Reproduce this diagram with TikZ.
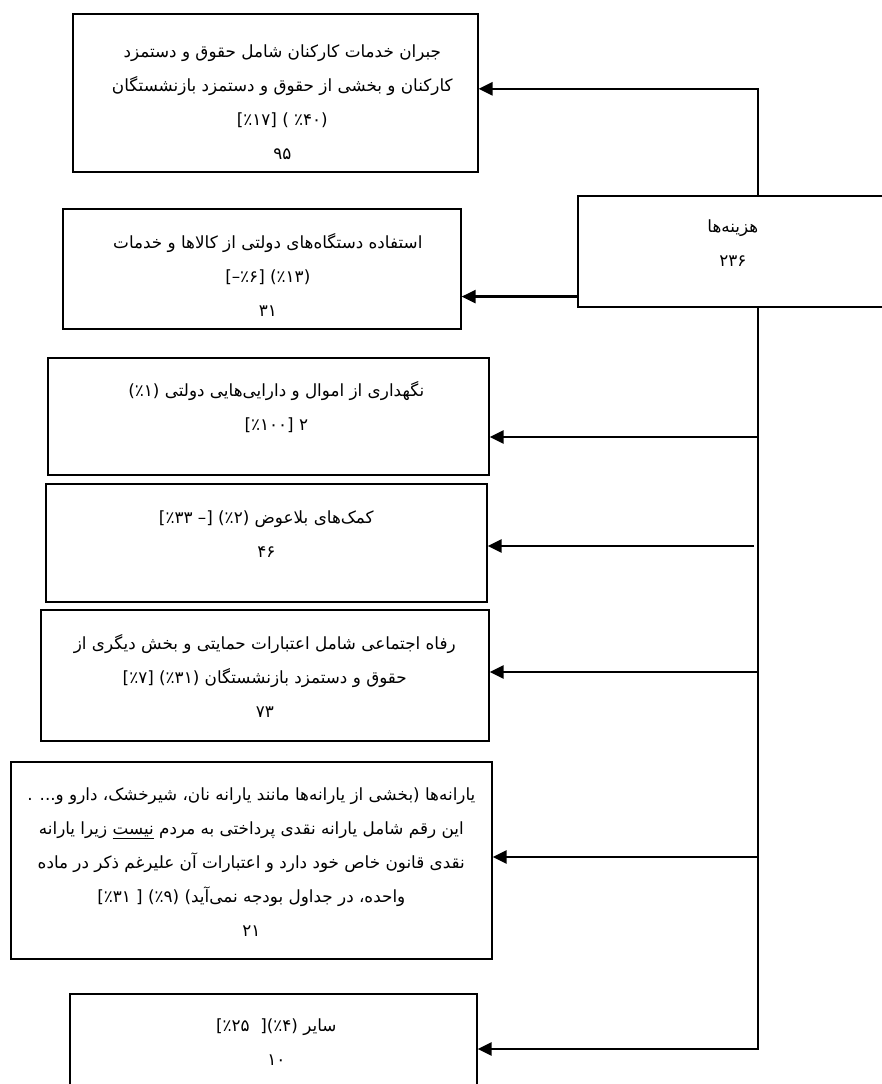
\documentclass[tikz,border=0pt]{standalone}
\usepackage{fontspec}
\usepackage{tikz}
\usetikzlibrary{arrows.meta}
\TeXXeTstate=1
\newfontfamily\arabicfont[Script=Arabic]{DejaVu Sans}
\newfontfamily\numfont{DejaVu Sans}
\newcommand{\rtlline}[1]{\beginR #1\endR}
\newcommand{\ltrpart}[1]{\beginL{\numfont #1}\endL}
\tikzset{
  box/.style={draw, line width=1.6pt, inner sep=0pt},
  boxtext/.style={align=center, inner sep=0pt, font=\arabicfont\fontsize{16.8}{34}\selectfont},
  feed/.style={line width=2.6pt, -{Triangle[length=14pt,width=13pt]}}
}

\begin{document}
\begin{tikzpicture}[x=1pt,y=-1pt]
\useasboundingbox (0,0) rectangle (882,1084);

\node[box, anchor=north west, minimum width=313, minimum height=111] (hazine) at (577,195) {};
\node[box, anchor=north west, minimum width=405, minimum height=158] (jobran) at (72,13) {};
\node[box, anchor=north west, minimum width=398, minimum height=120] (estefade) at (62,208) {};
\node[box, anchor=north west, minimum width=441, minimum height=117] (negahdari) at (47,357) {};
\node[box, anchor=north west, minimum width=441, minimum height=118] (komak) at (45,483) {};
\node[box, anchor=north west, minimum width=448, minimum height=131] (refah) at (40,609) {};
\node[box, anchor=north west, minimum width=481, minimum height=197] (yaraneh) at (10,761) {};
\node[box, anchor=north west, minimum width=407, minimum height=100] (saier) at (69,993) {};

\node[boxtext, xshift=-1.5pt, yshift=8pt] (hazinetext) at (hazine.center)
  {\rtlline{هزینه^^^^200cها}\\ \rtlline{۲۳۶}};
\node[boxtext, xshift=7pt, yshift=-9pt] (jobrantext) at (jobran.center)
  {\rtlline{جبران خدمات کارکنان شامل حقوق و دستمزد}\\
   \rtlline{کارکنان و بخشی از حقوق و دستمزد بازنشستگان}\\
   \ltrpart{[٪۱۷] ( ٪۴۰)}\\
   \rtlline{۹۵}};
\node[boxtext, xshift=6pt, yshift=-6.5pt] (estefadetext) at (estefade.center)
  {\rtlline{استفاده دستگاه^^^^200cهای دولتی از کالاها و خدمات}\\
   \ltrpart{[–٪۶] (٪۱۳)}\\
   \rtlline{۳۱}};
\node[boxtext, xshift=8pt, yshift=9.5pt] (negahdaritext) at (negahdari.center)
  {\rtlline{نگهداری از اموال و دارایی^^^^200cهایی دولتی \ltrpart{(٪۱)}}\\
   \ltrpart{[٪۱۰۰] ۲}};
\node[boxtext, yshift=9pt] (komaktext) at (komak.center)
  {\rtlline{کمک^^^^200cهای بلاعوض \ltrpart{[٪۳۳ –] (٪۲)}}\\
   \rtlline{۴۶}};
\node[boxtext, yshift=-1pt] (refahtext) at (refah.center)
  {\rtlline{رفاه اجتماعی شامل اعتبارات حمایتی و بخش دیگری از}\\
   \rtlline{حقوق و دستمزد بازنشستگان \ltrpart{[٪۷] (٪۳۱)}}\\
   \rtlline{۷۳}};
\node[boxtext, yshift=-2pt] (yaranehtext) at (yaraneh.center)
  {\rtlline{یارانه^^^^200cها (بخشی از یارانه^^^^200cها مانند یارانه نان، شیرخشک، دارو و... .}\\
   \rtlline{این رقم شامل یارانه نقدی پرداختی به مردم \underline{نیست} زیرا یارانه}\\
   \rtlline{نقدی قانون خاص خود دارد و اعتبارات آن علیرغم ذکر در ماده}\\
   \rtlline{واحده، در جداول بودجه نمی^^^^200cآید) \ltrpart{[٪۳۱ ] (٪۹)}}\\
   \rtlline{۲۱}};
\node[boxtext, xshift=3pt, yshift=1.5pt] (saiertext) at (saier.center)
  {\rtlline{سایر \ltrpart{[٪۲۵~~](٪۴)}}\\
   \rtlline{۱۰}};

\coordinate (fork) at (758,1049);
\coordinate (t3) at (758,437);
\coordinate (t4) at (754,546);
\coordinate (t5) at (758,672);
\coordinate (t6) at (758,857);
\path ([yshift=11pt]hazine.south west) coordinate (t2);

\draw[feed] (hazine.north -| fork) |- ([yshift=4pt]jobran.east);
\draw[feed] (t2) -- (t2 -| estefade.east);
\draw[feed] (hazine.south -| fork) -- (fork) -- (fork -| saier.east);
\draw[feed] (t3) -- (t3 -| negahdari.east);
\draw[feed] (t4) -- (t4 -| komak.east);
\draw[feed] (t5) -- (t5 -| refah.east);
\draw[feed] (t6) -- (t6 -| yaraneh.east);
\end{tikzpicture}
\end{document}
